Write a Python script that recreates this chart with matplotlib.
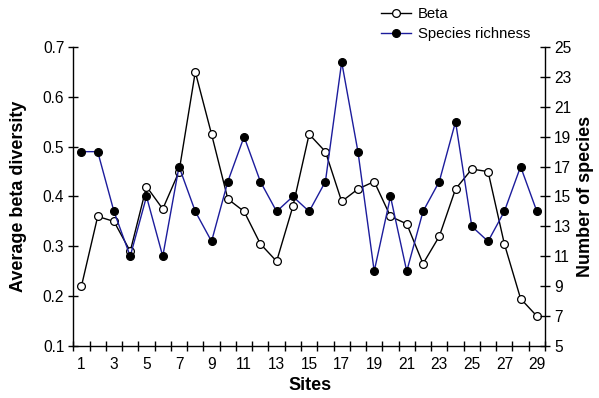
import matplotlib
matplotlib.use("Agg")
import matplotlib.pyplot as plt
import numpy as np
from matplotlib.ticker import FixedLocator

plt.rcParams['font.family'] = ['Liberation Sans', 'DejaVu Sans']

sites = list(range(1, 30))
beta = [0.22, 0.36, 0.35, 0.29, 0.42, 0.375, 0.45, 0.65, 0.525, 0.395,
        0.37, 0.305, 0.27, 0.38, 0.525, 0.49, 0.39, 0.415, 0.43, 0.36,
        0.345, 0.265, 0.32, 0.415, 0.455, 0.45, 0.305, 0.195, 0.16]
richness = [18, 18, 14, 11, 15, 11, 17, 14, 12, 16,
            19, 16, 14, 15, 14, 16, 24, 18, 10, 15,
            10, 14, 16, 20, 13, 12, 14, 17, 14]
xtick_labels = [str(s) for s in range(1, 30, 2)]

W, H = 599, 398
fig = plt.figure(figsize=(W / 100, H / 100), dpi=100)
l, r, t, b = 73.3, 545, 47, 346
ax = fig.add_axes([l / W, 1 - b / H, (r - l) / W, (b - t) / H])
ax2 = ax.twinx()

ms = 5.6
lb, = ax.plot(sites, beta, color='black', lw=1.0, marker='o', ms=ms,
              mfc='white', mec='black', mew=0.9, label='Beta', zorder=3)
lr, = ax2.plot(sites, richness, color='#1c1c9c', lw=1.0, marker='o', ms=ms,
               mfc='black', mec='black', mew=0.9, label='Species richness', zorder=3)

ax.set_xlim(0.5, 29.5)
ax.set_ylim(0.1, 0.7)
ax2.set_ylim(5, 25)

yt = np.arange(0.1, 0.71, 0.1)
ax.set_yticks(yt)
ax.set_yticklabels([f"{v:.1f}" for v in yt])
ax2.set_yticks(range(5, 26, 2))

ax.xaxis.set_major_locator(FixedLocator(range(1, 30, 2)))
ax.set_xticklabels(xtick_labels)
ax.xaxis.set_minor_locator(FixedLocator(np.arange(0.5, 29.6, 1.0)))
fs = 11.2
ax.tick_params(axis='x', which='major', length=0, pad=8, labelsize=fs)
ax.tick_params(axis='x', which='minor', length=7, direction='inout', width=1)
ax.tick_params(axis='y', which='major', length=7, direction='inout', width=1,
               labelsize=fs, pad=3)
ax2.tick_params(axis='y', which='major', length=7, direction='inout', width=1,
                labelsize=fs, pad=3)

for a in (ax, ax2):
    a.spines['top'].set_visible(False)
    for s in ('left', 'right', 'bottom'):
        a.spines[s].set_linewidth(1.0)
ax.spines['right'].set_visible(False)
ax2.spines['left'].set_visible(False)
ax2.spines['bottom'].set_visible(False)

tfs = 13
fig.text(310 / W, 1 - 386 / H, 'Sites', ha='center', va='center',
         fontsize=tfs, fontweight='bold')
fig.text(19 / W, 1 - 196 / H, 'Average beta diversity', ha='center', va='center',
         rotation=90, fontsize=tfs, fontweight='bold')
fig.text(586 / W, 1 - 196 / H, 'Number of species', ha='center', va='center',
         rotation=90, fontsize=tfs, fontweight='bold')

leg = fig.legend(handles=[lb, lr], loc='upper left',
                 bbox_to_anchor=(381 / W, 1 - 7 / H), frameon=False,
                 fontsize=10.7, handlelength=2.0, handletextpad=0.5,
                 borderpad=0, borderaxespad=0, labelspacing=0.4)

fig.savefig('out.png', dpi=100)
